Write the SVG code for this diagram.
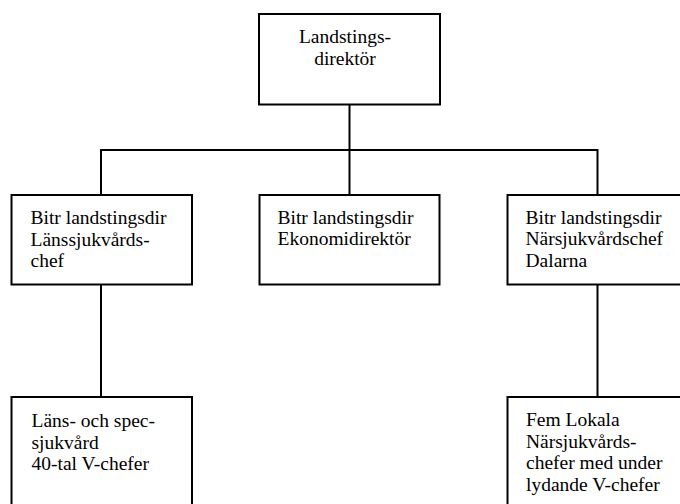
<svg xmlns="http://www.w3.org/2000/svg" width="680" height="504" viewBox="0 0 680 504">
<style>
.box{fill:#fff;stroke:#000;stroke-width:2}
.ln{fill:none;stroke:#000;stroke-width:2}
</style>
<rect width="680" height="504" fill="#fff"/>
<g id="connectors">
<line class="ln" x1="349.5" y1="104.5" x2="349.5" y2="150"/>
<line class="ln" x1="101" y1="150" x2="597.5" y2="150"/>
<line class="ln" x1="101" y1="149" x2="101" y2="195"/>
<line class="ln" x1="349.5" y1="149" x2="349.5" y2="195"/>
<line class="ln" x1="597.5" y1="149" x2="597.5" y2="195"/>
<line class="ln" x1="101" y1="284.5" x2="101" y2="397"/>
<line class="ln" x1="597.5" y1="284.5" x2="597.5" y2="397"/>
</g>
<g font-family="'Liberation Serif', 'DejaVu Serif', serif" font-size="19.5" fill="#000">
<g id="top">
<rect class="box" x="259" y="14" width="181" height="90.5"/>
<text x="345" y="43" text-anchor="middle">Landstings-</text>
<text x="345" y="64.5" text-anchor="middle">direktör</text>
</g>
<g id="left">
<rect class="box" x="11.5" y="195" width="180.5" height="89.5"/>
<text x="30.5" y="224">Bitr landstingsdir</text>
<text x="30.5" y="245.5">Länssjukvårds-</text>
<text x="30.5" y="267">chef</text>
</g>
<g id="middle">
<rect class="box" x="259.5" y="195" width="180" height="89.5"/>
<text x="277.5" y="223.5">Bitr landstingsdir</text>
<text x="277.5" y="245">Ekonomidirektör</text>
</g>
<g id="right">
<rect class="box" x="507.5" y="195" width="180" height="89.5"/>
<text x="525.5" y="223.5">Bitr landstingsdir</text>
<text x="525.5" y="245">Närsjukvårdschef</text>
<text x="525.5" y="266.5">Dalarna</text>
</g>
<g id="bottomleft">
<rect class="box" x="11.5" y="397" width="180.5" height="120"/>
<text x="31.5" y="427">Läns- och spec-</text>
<text x="31.5" y="448.5">sjukvård</text>
<text x="31.5" y="470">40-tal V-chefer</text>
</g>
<g id="bottomright">
<rect class="box" x="507.5" y="397" width="180" height="120"/>
<text x="526" y="426">Fem Lokala</text>
<text x="526" y="447.5">Närsjukvårds-</text>
<text x="526" y="469">chefer med under</text>
<text x="526" y="490.5">lydande V-chefer</text>
</g>
</g>
</svg>
